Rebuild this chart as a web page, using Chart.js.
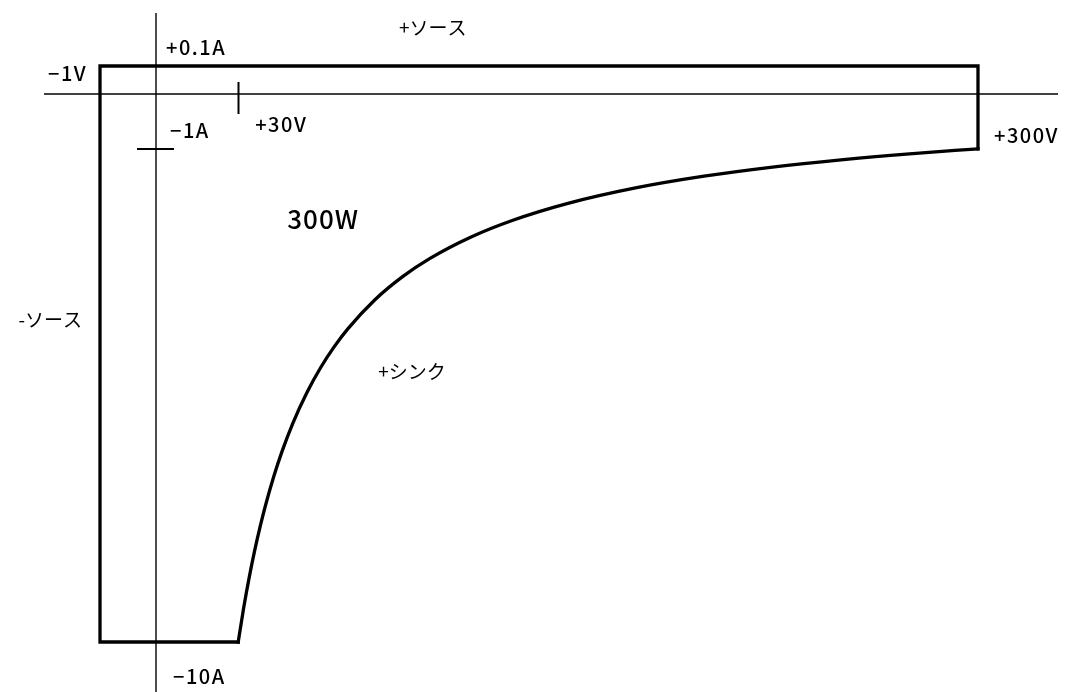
<!DOCTYPE html>
<html>
<head>
<meta charset="utf-8">
<script src="https://cdn.jsdelivr.net/npm/chart.js@4/dist/chart.umd.min.js"></script>
<style>
  html, body { margin: 0; padding: 0; background: #ffffff; }
  canvas { display: block; }
</style>
</head>
<body>
<canvas id="region" width="1065" height="692"></canvas>
<script>
// Operating region of an electronic load: voltage (V) against current (A).
const voltageRange = [-2, 329.2];       // visible voltage span
const currentRange = [-10.912, 0.2893]; // visible current span

// Rectangular limits of the region
const limitVoltage = [30, -1, -1, 300, 300];
const limitCurrent = [-10, -10, 0.1, 0.1, -1];

// 300 W constant-power edge (I = -300 / V)
const powerVoltage = [30, 32, 34, 36, 38, 40, 43, 46, 50, 55, 60, 65, 70, 80, 90, 100, 115, 130, 150, 175, 200, 225, 250, 275, 300];
const powerCurrent = [-10, -9.375, -8.824, -8.333, -7.895, -7.5, -6.977, -6.522, -6, -5.455, -5, -4.615, -4.286, -3.75, -3.333, -3, -2.609, -2.308, -2, -1.714, -1.5, -1.333, -1.2, -1.091, -1];

// Axis tick marks
const voltageTicks = [30];
const currentTicks = [-1];

// Value labels: text, voltage, current, pixel offset x, pixel offset y
const valueLabels = [
  ['+0.1A', 0, 0.1, 10, -19],
  ['\u22121V', -1, 0.1, -52, 7.5],
  ['\u22121A', 0, -1, 14, -18],
  ['+30V', 30, 0, 17, 30.5],
  ['+300V', 300, -1, 16, -13],
  ['\u221210A', 0, -10, 17, 34]
];
// Region labels: text, voltage, current, pixel offset x, pixel offset y, size
const regionLabels = [
  ['+ソース', 101, 0.1, 0, -38, 'kana'],
  ['300W', 61, -2.28, 0, 0, 'big'],
  ['+シンク', 93.4, -5.07, 0, 0, 'kana'],
  ['-ソース', -1, -4.12, -53, 0, 'kana']
];

// Linear scale whose negative / positive halves can be stretched,
// so the small -1 V and +0.1 A limits stay readable next to 300 V / -10 A.
class StretchedScale extends Chart.LinearScale {
  stretch(v) {
    const o = this.options;
    return v < 0 ? v * o.negStretch : v * o.posStretch;
  }
  unstretch(v) {
    const o = this.options;
    return v < 0 ? v / o.negStretch : v / o.posStretch;
  }
  determineDataLimits() {
    this.min = this.stretch(this.options.min);
    this.max = this.stretch(this.options.max);
  }
  getPixelForValue(value) {
    return super.getPixelForValue(this.stretch(value));
  }
  getValueForPixel(pixel) {
    return this.unstretch(super.getValueForPixel(pixel));
  }
}
StretchedScale.id = 'stretched';
StretchedScale.defaults = Chart.LinearScale.defaults;
Chart.register(StretchedScale);

const pts = (xs, ys) => xs.map((x, i) => ({ x, y: ys[i] }));

const annotations = {
  id: 'regionAnnotations',
  afterDatasetsDraw(chart) {
    const { ctx, scales: { x, y } } = chart;
    ctx.save();
    ctx.strokeStyle = '#000';
    ctx.lineWidth = 2;
    ctx.lineCap = 'butt';
    const y0 = y.getPixelForValue(0);
    const x0 = x.getPixelForValue(0);
    voltageTicks.forEach(v => {
      const px = Math.round(x.getPixelForValue(v)) + 0.5;
      ctx.beginPath(); ctx.moveTo(px, y0 - 12); ctx.lineTo(px, y0 + 20); ctx.stroke();
    });
    currentTicks.forEach(c => {
      const py = Math.round(y.getPixelForValue(c));
      ctx.beginPath(); ctx.moveTo(x0 - 19, py); ctx.lineTo(x0 + 18, py); ctx.stroke();
    });

    ctx.fillStyle = '#000';
    ctx.textBaseline = 'middle';
    ctx.textAlign = 'left';
    ctx.font = '500 20px "Noto Sans CJK JP", sans-serif';
    ctx.letterSpacing = '1.5px';
    valueLabels.forEach(([t, v, c, dx, dy]) => {
      ctx.fillText(t, x.getPixelForValue(v) + dx, y.getPixelForValue(c) + dy);
    });

    ctx.letterSpacing = '0px';
    regionLabels.forEach(([t, v, c, dx, dy, kind]) => {
      if (kind === 'big') {
        ctx.font = '500 26px "Noto Sans CJK JP", sans-serif';
        ctx.letterSpacing = '1px';
      } else {
        ctx.font = '19px "Noto Sans CJK JP", sans-serif';
        ctx.letterSpacing = '0px';
      }
      ctx.textAlign = dx < 0 ? 'right' : 'center';
      ctx.fillText(t, x.getPixelForValue(v) + (dx < 0 ? -18 : dx), y.getPixelForValue(c) + dy);
    });
    ctx.restore();
  }
};

new Chart(document.getElementById('region'), {
  type: 'scatter',
  data: {
    datasets: [
      {
        label: 'V axis',
        data: pts([0, 0], currentRange),
        showLine: true, borderColor: '#000', borderWidth: 1.4, pointRadius: 0
      },
      {
        label: 'I axis',
        data: pts(voltageRange, [0, 0]),
        showLine: true, borderColor: '#000', borderWidth: 1.4, pointRadius: 0
      },
      {
        label: 'limits',
        data: pts(limitVoltage, limitCurrent),
        showLine: true, borderColor: '#000', borderWidth: 3.3, pointRadius: 0,
        borderJoinStyle: 'miter', borderCapStyle: 'square', tension: 0
      },
      {
        label: '300W',
        data: pts(powerVoltage, powerCurrent),
        showLine: true, borderColor: '#000', borderWidth: 3.3, pointRadius: 0,
        cubicInterpolationMode: 'monotone', borderCapStyle: 'square'
      }
    ]
  },
  options: {
    responsive: false,
    animation: false,
    events: [],
    layout: { padding: { left: 44, right: 7, top: 13, bottom: 0 } },
    plugins: { legend: { display: false }, tooltip: { enabled: false } },
    scales: {
      x: {
        type: 'stretched', display: false, bounds: 'data',
        min: voltageRange[0], max: voltageRange[1],
        negStretch: 20.44, posStretch: 1
      },
      y: {
        type: 'stretched', display: false, bounds: 'data',
        min: currentRange[0], max: currentRange[1],
        negStretch: 1, posStretch: 5.11
      }
    }
  },
  plugins: [annotations]
});
</script>
</body>
</html>
